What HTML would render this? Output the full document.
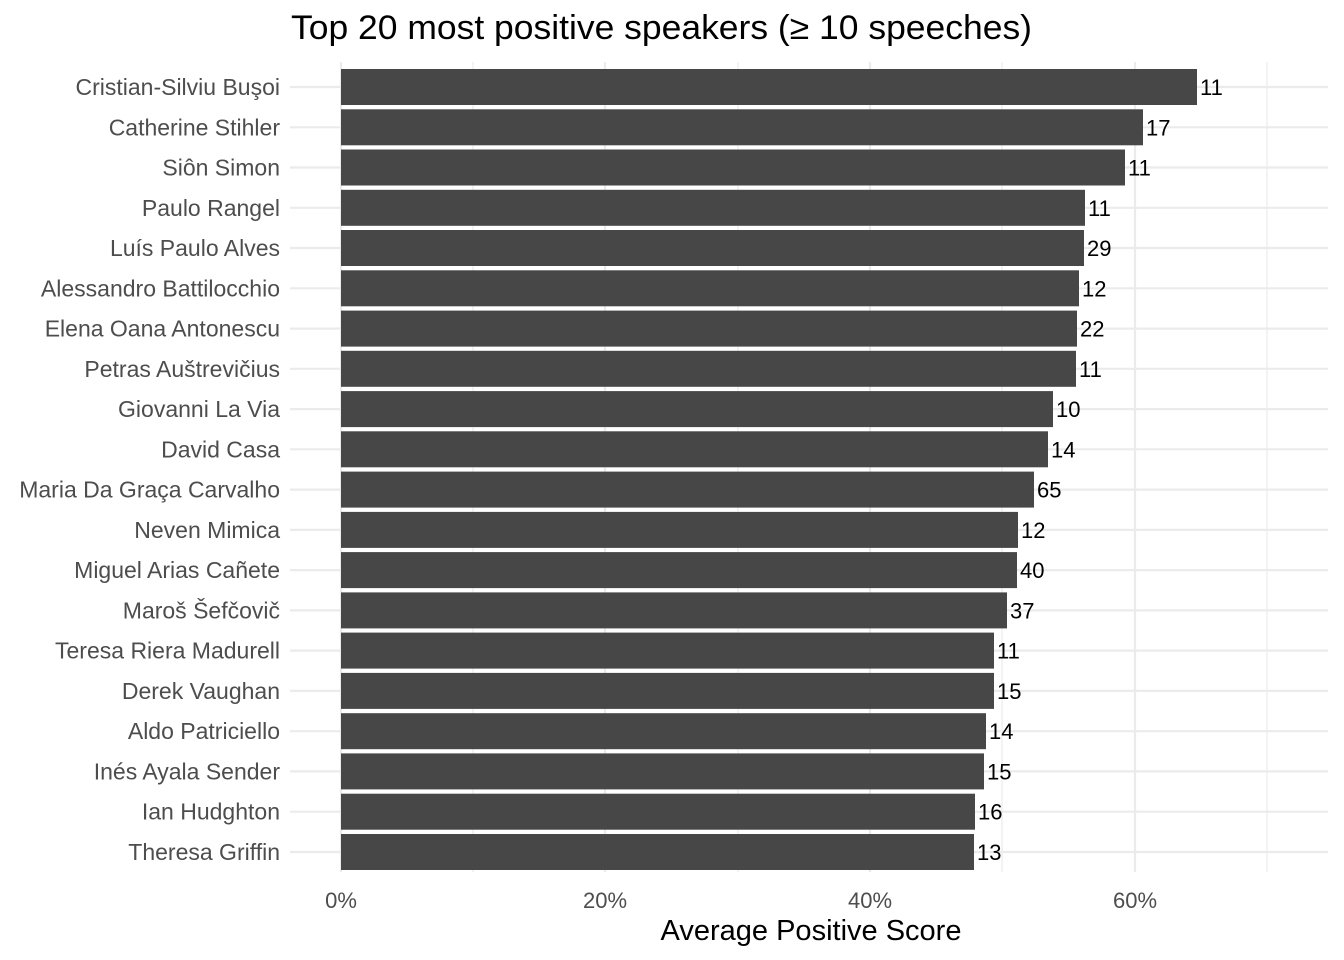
<!DOCTYPE html>
<html><head><meta charset="utf-8"><style>body{margin:0;background:#fff}svg{display:block}</style></head><body>
<svg width="1344" height="960" xmlns="http://www.w3.org/2000/svg" font-family="Liberation Sans, DejaVu Sans, sans-serif">
<rect width="1344" height="960" fill="#fff"/>
<g stroke="#ebebeb" stroke-width="1.2">
<line x1="473" y1="62" x2="473" y2="872"/><line x1="738" y1="62" x2="738" y2="872"/><line x1="1002" y1="62" x2="1002" y2="872"/><line x1="1267" y1="62" x2="1267" y2="872"/>
</g>
<g stroke="#ebebeb" stroke-width="2.2">
<line x1="341" y1="62" x2="341" y2="872"/><line x1="605" y1="62" x2="605" y2="872"/><line x1="870" y1="62" x2="870" y2="872"/><line x1="1135" y1="62" x2="1135" y2="872"/>
<line x1="290" x2="1328" y1="87" y2="87"/><line x1="290" x2="1328" y1="127.3" y2="127.3"/><line x1="290" x2="1328" y1="167.5" y2="167.5"/><line x1="290" x2="1328" y1="207.8" y2="207.8"/><line x1="290" x2="1328" y1="248" y2="248"/><line x1="290" x2="1328" y1="288.3" y2="288.3"/><line x1="290" x2="1328" y1="328.6" y2="328.6"/><line x1="290" x2="1328" y1="368.8" y2="368.8"/><line x1="290" x2="1328" y1="409.1" y2="409.1"/><line x1="290" x2="1328" y1="449.3" y2="449.3"/><line x1="290" x2="1328" y1="489.6" y2="489.6"/><line x1="290" x2="1328" y1="529.9" y2="529.9"/><line x1="290" x2="1328" y1="570.1" y2="570.1"/><line x1="290" x2="1328" y1="610.4" y2="610.4"/><line x1="290" x2="1328" y1="650.6" y2="650.6"/><line x1="290" x2="1328" y1="690.9" y2="690.9"/><line x1="290" x2="1328" y1="731.2" y2="731.2"/><line x1="290" x2="1328" y1="771.4" y2="771.4"/><line x1="290" x2="1328" y1="811.7" y2="811.7"/><line x1="290" x2="1328" y1="852" y2="852"/>
</g>
<g fill="#474747">
<rect x="341" y="69" width="856" height="36"/><rect x="341" y="109.3" width="802" height="36"/><rect x="341" y="149.5" width="784" height="36"/><rect x="341" y="189.8" width="744" height="36"/><rect x="341" y="230" width="743" height="36"/><rect x="341" y="270.3" width="738" height="36"/><rect x="341" y="310.6" width="736" height="36"/><rect x="341" y="350.8" width="735" height="36"/><rect x="341" y="391.1" width="712" height="36"/><rect x="341" y="431.3" width="707" height="36"/><rect x="341" y="471.6" width="693" height="36"/><rect x="341" y="511.9" width="677" height="36"/><rect x="341" y="552.1" width="676" height="36"/><rect x="341" y="592.4" width="666" height="36"/><rect x="341" y="632.6" width="653" height="36"/><rect x="341" y="672.9" width="653" height="36"/><rect x="341" y="713.2" width="645" height="36"/><rect x="341" y="753.4" width="643" height="36"/><rect x="341" y="793.7" width="634" height="36"/><rect x="341" y="834" width="633" height="36"/>
</g>
<g font-size="23" fill="#4d4d4d" text-anchor="end">
<text x="280" y="95">Cristian-Silviu Buşoi</text><text x="280" y="135.3">Catherine Stihler</text><text x="280" y="175.5">Siôn Simon</text><text x="280" y="215.8">Paulo Rangel</text><text x="280" y="256">Luís Paulo Alves</text><text x="280" y="296.3">Alessandro Battilocchio</text><text x="280" y="336.6">Elena Oana Antonescu</text><text x="280" y="376.8">Petras Auštrevičius</text><text x="280" y="417.1">Giovanni La Via</text><text x="280" y="457.3">David Casa</text><text x="280" y="497.6">Maria Da Graça Carvalho</text><text x="280" y="537.9">Neven Mimica</text><text x="280" y="578.1">Miguel Arias Cañete</text><text x="280" y="618.4">Maroš Šefčovič</text><text x="280" y="658.6">Teresa Riera Madurell</text><text x="280" y="698.9">Derek Vaughan</text><text x="280" y="739.2">Aldo Patriciello</text><text x="280" y="779.4">Inés Ayala Sender</text><text x="280" y="819.7">Ian Hudghton</text><text x="280" y="860">Theresa Griffin</text>
</g>
<g font-size="22" fill="#000">
<text x="1200" y="95">11</text><text x="1146" y="135.3">17</text><text x="1128" y="175.5">11</text><text x="1088" y="215.8">11</text><text x="1087" y="256">29</text><text x="1082" y="296.3">12</text><text x="1080" y="336.6">22</text><text x="1079" y="376.8">11</text><text x="1056" y="417.1">10</text><text x="1051" y="457.3">14</text><text x="1037" y="497.6">65</text><text x="1021" y="537.9">12</text><text x="1020" y="578.1">40</text><text x="1010" y="618.4">37</text><text x="997" y="658.6">11</text><text x="997" y="698.9">15</text><text x="989" y="739.2">14</text><text x="987" y="779.4">15</text><text x="978" y="819.7">16</text><text x="977" y="860">13</text>
</g>
<g font-size="22" fill="#4d4d4d" text-anchor="middle">
<text x="341" y="908">0%</text><text x="605" y="908">20%</text><text x="870" y="908">40%</text><text x="1135" y="908">60%</text>
</g>
<text x="811" y="940" font-size="29" fill="#000" text-anchor="middle">Average Positive Score</text>
<text x="291" y="39" font-size="34" fill="#000" textLength="741" lengthAdjust="spacingAndGlyphs">Top 20 most positive speakers (≥ 10 speeches)</text>
</svg>
</body></html>
